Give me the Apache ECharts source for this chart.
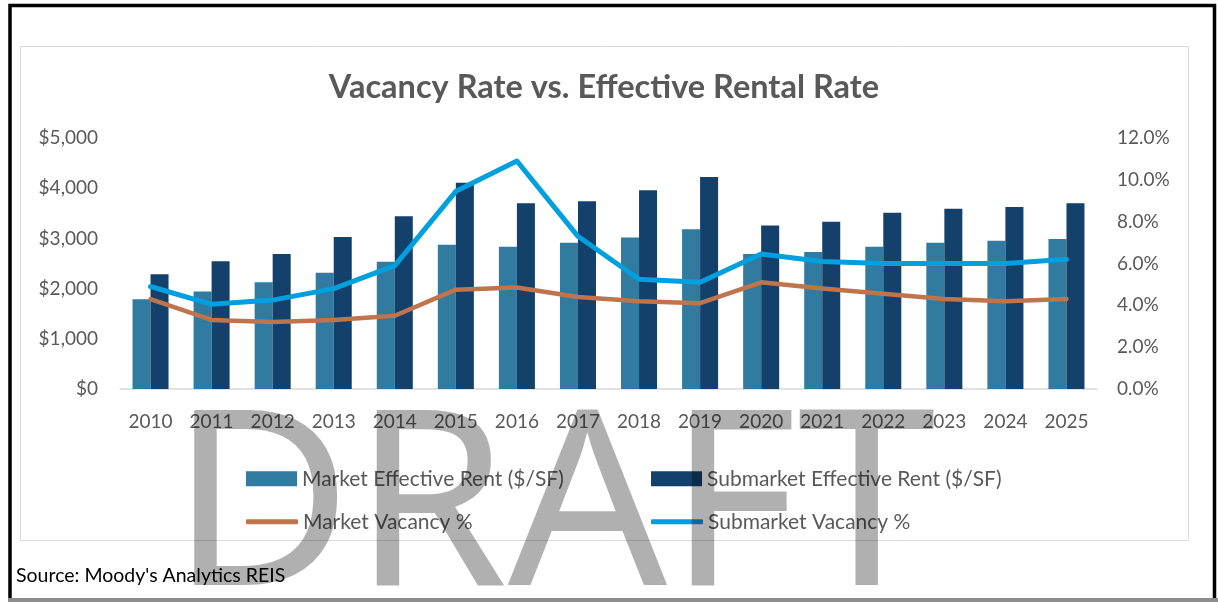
<!DOCTYPE html>
<html>
<head>
    <title>Vacancy Rate vs. Effective Rental Rate</title>
    <script src="https://cdn.jsdelivr.net/npm/echarts@6/dist/echarts.min.js"></script>
    <style>
        html, body {
            margin: 0!important;
            padding: 0!important;
            background: #fff;
        }
    </style>
</head>
<body>
<div id="chartDiv" style="width: 1218px; height: 602px;"></div>
<script>
    // data
    var years = ['2010','2011','2012','2013','2014','2015','2016','2017','2018','2019','2020','2021','2022','2023','2024','2025'];
    var marketRent = [1790, 1940, 2125, 2315, 2535, 2875, 2835, 2915, 3020, 3180, 2690, 2730, 2835, 2915, 2955, 2990];
    var submarketRent = [2285, 2545, 2690, 3030, 3440, 4110, 3700, 3740, 3960, 4225, 3255, 3330, 3510, 3590, 3625, 3700];
    var marketVacancy = [4.3, 3.3, 3.2, 3.3, 3.5, 4.75, 4.85, 4.4, 4.2, 4.1, 5.1, 4.8, 4.55, 4.3, 4.2, 4.3];
    var submarketVacancy = [4.9, 4.05, 4.25, 4.8, 5.9, 9.45, 10.9, 7.3, 5.25, 5.1, 6.45, 6.1, 6.0, 6.0, 6.0, 6.2];

    var FONT = 'Lato';
    var GREY = '#595959';

    var myChart = echarts.init(document.getElementById('chartDiv'));

    function legendAt(name, left, top, isLine) {
        return {
            data: [name],
            left: left,
            top: top,
            padding: 0,
            itemWidth: isLine ? 52 : 51,
            itemHeight: isLine ? 5 : 15,
            icon: isLine ? 'roundRect' : 'rect',
            textStyle: { color: GREY, fontSize: 21, fontFamily: FONT },
            selectedMode: false
        };
    }

    var option = {
        animation: false,
        textStyle: { fontFamily: FONT },
        legend: [
            legendAt('Market Effective Rent ($/SF)', 246, 463, false),
            legendAt('Submarket Effective Rent ($/SF)', 651, 463, false),
            legendAt('Market Vacancy %', 246, 506, true),
            legendAt('Submarket Vacancy %', 651, 506, true)
        ],
        grid: {
            left: 120,
            right: 121,
            top: 138,
            bottom: 213
        },
        xAxis: {
            type: 'category',
            data: years,
            axisTick: { show: false },
            axisLine: { lineStyle: { color: '#d9d9d9', width: 1.5 } },
            axisLabel: { color: GREY, fontSize: 19, fontFamily: FONT, margin: 19, interval: 0 }
        },
        yAxis: [
            {
                type: 'value',
                min: 0,
                max: 5000,
                interval: 1000,
                splitLine: { show: false },
                axisLabel: {
                    color: GREY, fontSize: 19, fontFamily: FONT, margin: 22,
                    formatter: function (v) { return '$' + v.toLocaleString('en-US'); }
                }
            },
            {
                type: 'value',
                min: 0,
                max: 12,
                interval: 2,
                splitLine: { show: false },
                axisLabel: {
                    color: GREY, fontSize: 19, fontFamily: FONT, margin: 20,
                    formatter: function (v) { return v.toFixed(1) + '%'; }
                }
            }
        ],
        series: [
            {
                name: 'Market Effective Rent ($/SF)',
                type: 'bar',
                data: marketRent,
                barGap: '0%',
                barCategoryGap: '41%',
                itemStyle: { color: '#317ba0' }
            },
            {
                name: 'Submarket Effective Rent ($/SF)',
                type: 'bar',
                data: submarketRent,
                itemStyle: { color: '#14406c' }
            },
            {
                name: 'Market Vacancy %',
                type: 'line',
                yAxisIndex: 1,
                data: marketVacancy,
                showSymbol: false,
                symbol: 'none',
                lineStyle: { color: '#c0744b', width: 4.5, cap: 'round', join: 'round' },
                itemStyle: { color: '#c0744b' }
            },
            {
                name: 'Submarket Vacancy %',
                type: 'line',
                yAxisIndex: 1,
                data: submarketVacancy,
                showSymbol: false,
                symbol: 'none',
                lineStyle: { color: '#009fde', width: 5, cap: 'round', join: 'round' },
                itemStyle: { color: '#009fde' }
            }
        ],
        graphic: [
            // outer black frame
            { type: 'rect', shape: { x: 10, y: 5.5, width: 1204.5, height: 600 }, style: { fill: 'none', stroke: '#000', lineWidth: 3.5 }, z: -5 },
            { type: 'rect', shape: { x: 8, y: 598, width: 1210, height: 4 }, style: { fill: '#8c8c8c' }, z: -4 },
            // inner chart frame
            { type: 'rect', shape: { x: 20.5, y: 46.5, width: 1168, height: 494 }, style: { fill: 'none', stroke: '#d9d9d9', lineWidth: 1 }, z: -5 },
            {
                type: 'text', x: 604, y: 88,
                style: { text: 'Vacancy Rate vs. Effective Rental Rate', align: 'center', verticalAlign: 'middle',
                         font: 'bold 32.5px Lato', fill: GREY }
            },
            {
                type: 'text', x: 16, y: 576,
                style: { text: "Source: Moody's Analytics REIS", align: 'left', verticalAlign: 'middle',
                         font: '19.5px Lato', fill: '#000' }
            },
            // watermark
            {
                type: 'text', x: 170, y: 515, scaleX: 1.02, z: 100,
                style: { text: 'DRAFT', align: 'left', verticalAlign: 'middle',
                         font: '245px "Noto Sans"', fill: 'rgba(0,0,0,0.31)' }
            }
        ]
    };
    myChart.setOption(option);
</script>
</body>
</html>
